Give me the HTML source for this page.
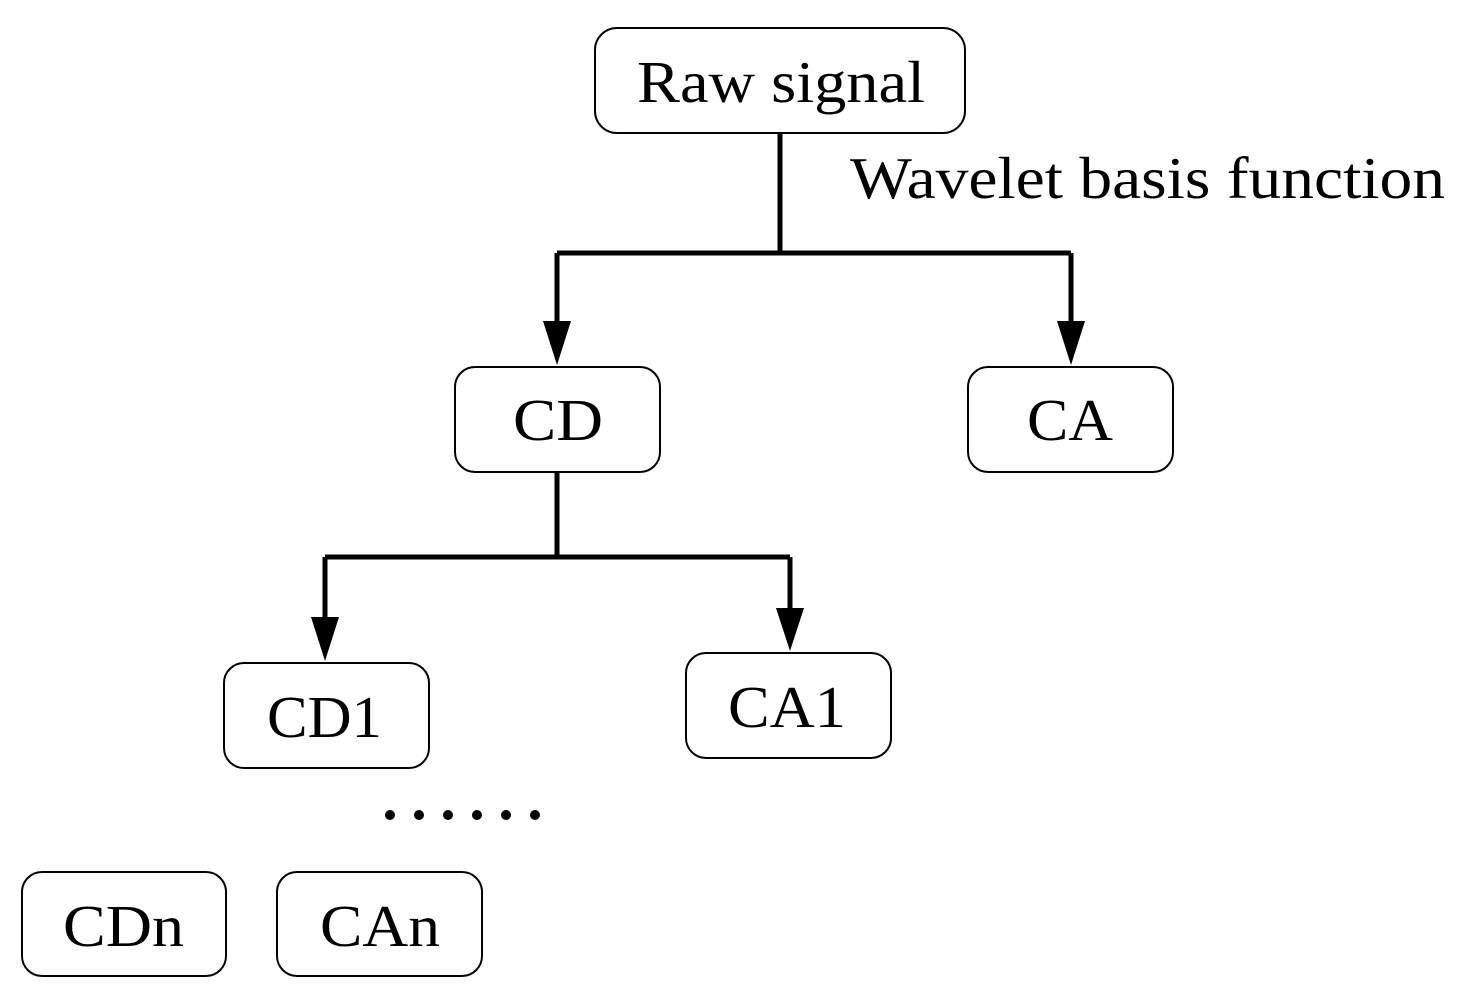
<!DOCTYPE html>
<html><head><meta charset="utf-8"><style>
html,body{margin:0;padding:0;background:#fff;}
svg{display:block;}
text{font-family:"Liberation Serif",serif;font-size:59px;fill:#000;}
</style></head><body>
<svg width="1461" height="1001" viewBox="0 0 1461 1001" xmlns="http://www.w3.org/2000/svg">
<g fill="none" stroke="#000" stroke-width="2">
<rect x="595" y="28" width="370" height="105" rx="22"/>
<rect x="455" y="367" width="205" height="105" rx="20"/>
<rect x="968" y="367" width="205" height="105" rx="20"/>
<rect x="224" y="663" width="205" height="105" rx="20"/>
<rect x="686" y="653" width="205" height="105" rx="20"/>
<rect x="22" y="872" width="204" height="104" rx="20"/>
<rect x="277" y="872" width="205" height="104" rx="20"/>
</g>
<g fill="none" stroke="#000" stroke-width="5">
<path d="M780 133 V253 M557 253 H1071 M557 253 V325 M1071 253 V325"/>
<path d="M557 472 V557 M325 557 H790 M325 557 V620 M790 557 V612"/>
</g>
<g fill="#000">
<polygon points="543,321 571,321 557,365"/>
<polygon points="1057,321 1085,321 1071,365"/>
<polygon points="311,617 339,617 325,661"/>
<polygon points="776,608 804,608 790,651"/>
<circle cx="390" cy="815" r="5"/><circle cx="419" cy="815" r="5"/><circle cx="448" cy="815" r="5"/>
<circle cx="477" cy="815" r="5"/><circle cx="506" cy="815" r="5"/><circle cx="535" cy="815" r="5"/>
</g>
<text x="637" y="102" textLength="288" lengthAdjust="spacingAndGlyphs">Raw signal</text>
<text x="850" y="198" textLength="595" lengthAdjust="spacingAndGlyphs">Wavelet basis function</text>
<text x="513" y="440" textLength="90" lengthAdjust="spacingAndGlyphs">CD</text>
<text x="1027" y="440" textLength="86" lengthAdjust="spacingAndGlyphs">CA</text>
<text x="267" y="737" textLength="115" lengthAdjust="spacingAndGlyphs">CD1</text>
<text x="728" y="727" textLength="118" lengthAdjust="spacingAndGlyphs">CA1</text>
<text x="63" y="946" textLength="121" lengthAdjust="spacingAndGlyphs">CDn</text>
<text x="320" y="946" textLength="120" lengthAdjust="spacingAndGlyphs">CAn</text>
</svg>
</body></html>
